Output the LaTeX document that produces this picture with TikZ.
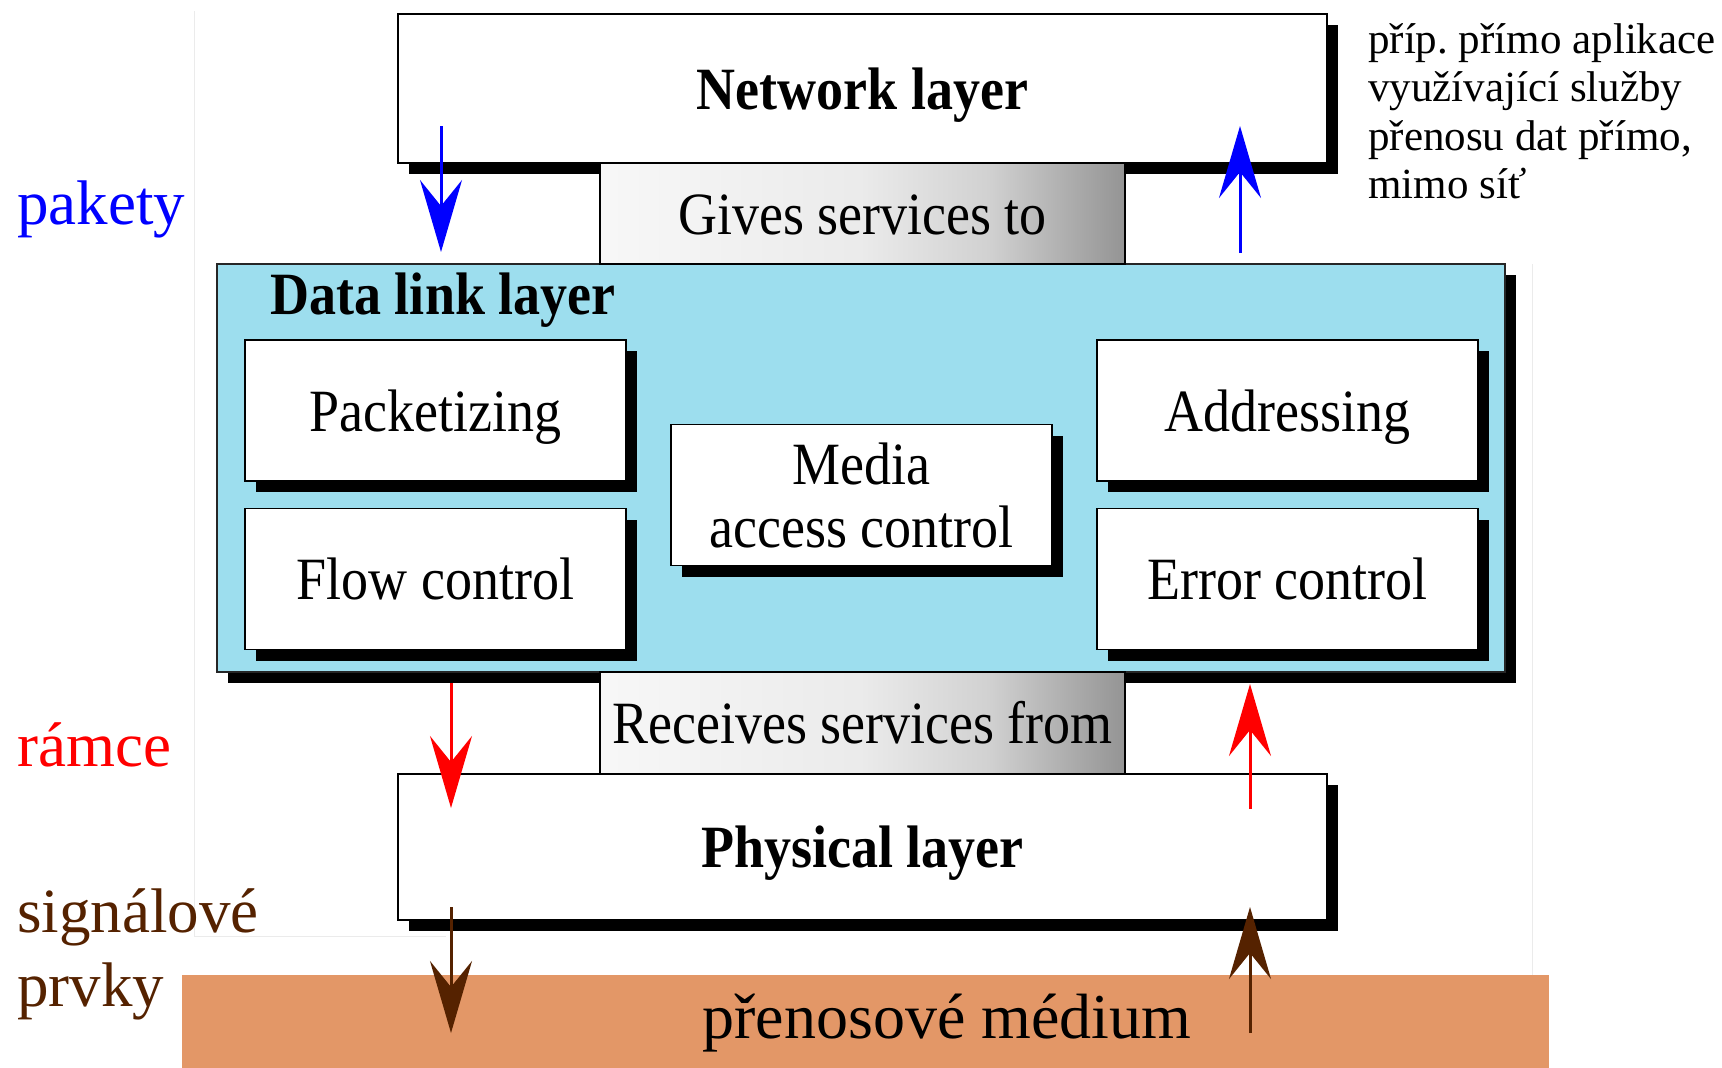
\documentclass[tikz,border=0pt]{standalone}
\usepackage{fontspec}
\setmainfont{Liberation Serif}
\newfontfamily\boxfont[FakeStretch=0.9]{Liberation Serif}
\usetikzlibrary{arrows.meta,shadows}

\definecolor{dlblue}{RGB}{157,222,238}
\definecolor{mediumorange}{RGB}{227,151,103}
\definecolor{sigbrown}{RGB}{85,34,0}
\definecolor{pktblue}{RGB}{0,0,255}
\definecolor{frmred}{RGB}{255,0,0}

% white on the left, darkening towards the right edge
\pgfdeclarehorizontalshading{svcshade}{100bp}{color(0bp)=(black!3); color(25bp)=(black!3); color(50bp)=(black!8); color(62bp)=(black!18); color(75bp)=(black!42); color(100bp)=(black!42)}

\begin{document}
\frenchspacing
\begin{tikzpicture}[x=1pt,y=-1pt,
  shadowed/.style={drop shadow={shadow xshift=11pt, shadow yshift=-11pt, fill=black, opacity=1}},
  oneline/.style={text height=41pt, text depth=0pt},
  layerbox/.style={rectangle, draw=black, line width=1.6pt, fill=white, inner sep=0pt, shadowed, oneline,
    font=\boxfont\bfseries\fontsize{60}{66}\selectfont},
  funcbox/.style={rectangle, draw=black, line width=1.6pt, fill=white, inner sep=0pt, shadowed,
    minimum width=381pt, minimum height=141pt, align=center,
    font=\boxfont\fontsize{60}{63}\selectfont},
  svcbox/.style={rectangle, draw=black, line width=1.6pt, shading=svcshade, inner sep=0pt, oneline,
    minimum width=525pt, font=\boxfont\fontsize{60}{66}\selectfont},
  sidelabel/.style={anchor=base west, inner sep=0pt, font=\fontsize{63}{70}\selectfont},
  flow/.style={line width=3pt, -{Stealth[length=72pt, width=42pt, inset=26pt]}},
  frameline/.style={draw=black!8, line width=1pt}
]
\useasboundingbox (0,0) rectangle (1722,1068);

% faint outline of the slide area
\draw[frameline] (194,11) -- (194,936) -- (446,936);
\draw[frameline] (1532,264) -- (1532,975);

% transmission medium
\node[rectangle, fill=mediumorange, inner sep=0pt, minimum width=1367pt, minimum height=93pt] (medium) at (865.5,1021.5) {};
\node[anchor=base, inner sep=0pt, font=\fontsize{64}{70}\selectfont] (mediumtext) at (947,1038) {přenosové médium};

% layers
\node[layerbox, minimum width=929pt, minimum height=149pt] (net) at (862.5,88.5) {Network layer};
\node[layerbox, minimum width=929pt, minimum height=146pt] (phy) at (862.5,847) {Physical layer};
\node[rectangle, draw=black!85, line width=1.6pt, fill=dlblue, shadowed, inner sep=0pt,
      minimum width=1288pt, minimum height=408pt] (dll) at (861,468) {};
\node[inner sep=0pt, oneline, font=\boxfont\bfseries\fontsize{60}{66}\selectfont] (dlltitle) at (443,294) {Data link layer};

% data link functions
\node[funcbox, oneline] (pack) at (435.5,410.5) {Packetizing};
\node[funcbox, oneline] (flowc) at (435.5,579) {Flow control};
\node[funcbox] (mac) at (861.5,495) {Media\\access control};
\node[funcbox, oneline] (addr) at (1287.5,410.5) {Addressing};
\node[funcbox, oneline] (errc) at (1287.5,579) {Error control};

% service interfaces
\node[svcbox, minimum height=101pt] (gives) at (862.5,213.5) {Gives services to};
\node[svcbox, minimum height=102pt] (recv) at (862.5,723) {Receives services from};

% data units passed between layers
\coordinate (pkdownA) at (441,126);  \coordinate (pkdownB) at (441,252);
\coordinate (pkupA) at (1240,253);   \coordinate (pkupB) at (1240,126);
\coordinate (frdownA) at (451,683);  \coordinate (frdownB) at (451,808);
\coordinate (frupA) at (1250,809);   \coordinate (frupB) at (1250,684);
\coordinate (sgdownA) at (451,907);  \coordinate (sgdownB) at (451,1033);
\coordinate (sgupA) at (1250,1033);  \coordinate (sgupB) at (1250,907);

\draw[flow, pktblue] (pkdownA) -- (pkdownB);
\draw[flow, pktblue] (pkupA) -- (pkupB);
\draw[flow, frmred] (frdownA) -- (frdownB);
\draw[flow, frmred] (frupA) -- (frupB);
\draw[flow, sigbrown] (sgdownA) -- (sgdownB);
\draw[flow, sigbrown] (sgupA) -- (sgupB);

% unit names
\node[sidelabel, text=pktblue] (lpakety) at (17,224) {pakety};
\node[sidelabel, text=frmred] (lramce) at (17,766) {rámce};
\node[sidelabel, text=sigbrown] (lsignal) at (17,932) {signálové};
\node[sidelabel, text=sigbrown] (lprvky) at (17,1006) {prvky};

% note beside the network layer
\node[anchor=north west, inner sep=0pt, align=left, font=\fontsize{43}{48.5}\selectfont] (note) at (1368,23)
  {příp. přímo aplikace\\využívající služby\\přenosu dat přímo,\\mimo síť};
\end{tikzpicture}
\end{document}
